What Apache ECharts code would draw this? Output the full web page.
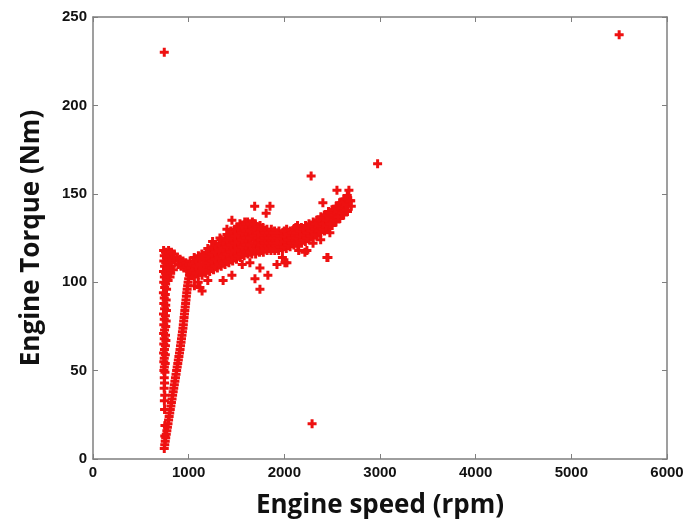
<!DOCTYPE html>
<html>
<head>
<meta charset="utf-8">
<script src="https://cdn.jsdelivr.net/npm/echarts@6/dist/echarts.min.js"></script>
<style>
html,body{margin:0;padding:0;background:#fff;}
#c{width:684px;height:519px;}
</style>
</head>
<body>
<div id="c"></div>
<script>
// Axis ticks
var xTicks = [0, 1000, 2000, 3000, 4000, 5000, 6000];
var yTicks = [0, 50, 100, 150, 200, 250];

// Idle-speed vertical column  [rpm, Nm]
var idleColumn = [
  [738,118],[758,117],[745,115],[768,114],[740,112],[760,111],[748,109],[770,108],
  [737,106],[757,105],[746,103],[766,102],[739,100],[759,99],[749,97],[769,96],
  [736,94],[756,93],[745,91],[765,90],[740,88],[760,87],[748,85],[768,84],
  [737,82],[757,81],[745,79],[765,78],[740,76],[760,75],[748,73],[738,71],
  [758,70],[745,68],[762,67],[740,65],[757,64],[747,62],[738,60],[756,59],
  [745,57],[740,55],[755,54],[746,52],[741,50],[752,49],[745,46],[748,43],
  [744,40],[750,36],[746,33],[748,28],[752,19],[750,13]
];

// Rising ramp from idle
var rampPoints = [
  [745,6],[750,8],[755,10],[760,12],[766,14],[772,16],[778,18],[784,20],[790,22],
  [796,24],[802,26],[808,28],[814,30],[820,32],[826,34],[832,36],[838,38],[844,40],
  [850,42],[856,44],[862,46],[868,48],[874,50],[880,52],[886,54],[892,56],[898,58],
  [904,60],[910,62],[915,64],[920,66],[925,68],[930,70],[935,72],[940,74],[944,76],
  [948,78],[952,80],[956,82],[960,84],[964,86],[968,88],[972,90],[976,92],[980,94],
  [984,96],[989,98],[994,100],[1000,102],[1008,104]
];

// Upper band joining the column to the main cloud
var topBand = [
  [790,118],[800,115],[820,117],[830,113],[850,116],[860,112],[880,114],[890,110],
  [910,113],[920,109],[940,112],[950,108],[970,111],[980,107],[1000,110],[1010,106],
  [790,106],[805,103],[785,101],[820,109],[840,107],[800,111],[780,108],[812,105]
];

// Main operating cloud
var mainCloud = [
  [1020,104],[1028,108],[1015,112],
  [1060,103],[1052,107],[1066,111],[1058,114],
  [1100,104],[1108,108],[1094,112],[1102,115],
  [1140,104],[1134,108],[1146,112],[1138,116],
  [1180,105],[1188,109],[1174,113],[1182,117],
  [1220,106],[1214,110],[1226,114],[1218,118],
  [1260,107],[1268,111],[1254,115],[1262,119],
  [1300,108],[1294,112],[1306,116],[1298,120],
  [1340,109],[1348,113],[1334,117],[1342,121],[1338,124],
  [1380,110],[1374,114],[1386,118],[1378,122],[1384,125],
  [1420,111],[1428,115],[1414,119],[1422,123],[1418,127],
  [1460,112],[1454,116],[1466,120],[1458,124],[1464,128],
  [1500,113],[1508,117],[1494,121],[1502,125],[1498,129],[1506,131],
  [1540,114],[1534,118],[1546,122],[1538,126],[1544,130],[1536,133],
  [1580,115],[1588,119],[1574,123],[1582,127],[1578,131],[1586,134],
  [1620,116],[1614,120],[1626,124],[1618,128],[1624,132],[1616,134],
  [1660,116],[1668,120],[1654,124],[1662,128],[1658,131],[1666,134],
  [1700,116],[1694,120],[1706,124],[1698,128],[1704,131],[1696,133],
  [1740,117],[1748,120],[1734,123],[1742,126],[1738,129],[1746,132],
  [1780,117],[1774,120],[1786,123],[1778,126],[1784,129],[1776,131],
  [1820,118],[1828,121],[1814,124],[1822,127],[1818,130],
  [1860,118],[1854,121],[1866,124],[1858,127],[1864,130],
  [1900,118],[1908,121],[1894,124],[1902,127],[1898,129],
  [1940,118],[1934,121],[1946,124],[1938,127],[1944,129],
  [1980,119],[1988,122],[1974,125],[1982,128],
  [2020,119],[2014,122],[2026,125],[2018,128],[2024,130],
  [2060,120],[2068,123],[2054,126],[2062,129],
  [2100,121],[2094,124],[2106,127],[2098,130],
  [2140,121],[2148,124],[2134,127],[2142,130],[2138,132],
  [2180,122],[2174,125],[2186,128],[2178,131],
  [2220,123],[2228,126],[2214,129],[2222,132],
  [2260,124],[2254,127],[2266,130],[2258,133],
  [2300,125],[2308,128],[2294,131],[2302,134],
  [2340,126],[2334,129],[2346,132],[2338,135],
  [2380,128],[2388,131],[2374,134],[2382,137],
  [2420,129],[2414,132],[2426,135],[2418,138],
  [2460,131],[2468,134],[2454,137],[2462,140],
  [2500,132],[2494,135],[2506,138],[2498,141],
  [2540,134],[2548,137],[2534,140],[2542,143],
  [2580,136],[2574,139],[2586,142],[2578,145],
  [2620,138],[2628,141],[2614,144],[2622,147],
  [2660,140],[2654,143],[2666,146],[2658,149],
  [2700,143],[2694,146]
];

// In-between samples of the operating cloud
var cloudFill = [
  [1040,106],[1040,110],
  [1080,105],[1080,109],[1080,113],
  [1120,106],[1120,110],[1120,114],
  [1160,106],[1160,110],[1160,114],
  [1200,107],[1200,111],[1200,115],[1200,119],
  [1240,108],[1240,112],[1240,116],[1240,120],
  [1280,109],[1280,113],[1280,117],[1280,121],
  [1320,110],[1320,114],[1320,118],[1320,122],
  [1360,111],[1360,115],[1360,119],[1360,123],
  [1400,112],[1400,116],[1400,120],[1400,124],[1400,127],
  [1440,113],[1440,117],[1440,121],[1440,125],[1440,129],
  [1480,114],[1480,118],[1480,122],[1480,126],[1480,130],
  [1520,115],[1520,119],[1520,123],[1520,127],[1520,131],
  [1560,116],[1560,120],[1560,124],[1560,128],[1560,132],
  [1600,117],[1600,121],[1600,125],[1600,129],[1600,133],
  [1640,117],[1640,121],[1640,125],[1640,129],[1640,133],
  [1680,118],[1680,122],[1680,126],[1680,130],[1680,133],
  [1720,118],[1720,122],[1720,125],[1720,128],[1720,131],
  [1760,118],[1760,121],[1760,124],[1760,127],[1760,130],
  [1800,119],[1800,122],[1800,125],[1800,128],
  [1840,119],[1840,122],[1840,125],[1840,128],
  [1880,119],[1880,122],[1880,125],[1880,128],
  [1920,119],[1920,122],[1920,125],[1920,128],
  [1960,120],[1960,123],[1960,126],
  [2000,120],[2000,123],[2000,126],[2000,129],
  [2040,121],[2040,124],[2040,127],
  [2080,122],[2080,125],[2080,128],
  [2120,122],[2120,125],[2120,128],[2120,131],
  [2160,123],[2160,126],[2160,129],
  [2200,124],[2200,127],[2200,130],
  [2240,125],[2240,128],[2240,131],
  [2280,126],[2280,129],[2280,132],
  [2320,127],[2320,130],[2320,133],
  [2360,129],[2360,132],[2360,135],
  [2400,130],[2400,133],[2400,136],
  [2440,132],[2440,135],[2440,138],
  [2480,133],[2480,136],[2480,139],
  [2520,135],[2520,138],[2520,141],
  [2560,137],[2560,140],[2560,143],
  [2600,139],[2600,142],[2600,145],
  [2640,141],[2640,144],[2640,147]
];

// Scattered points and outliers
var outliers = [
  [745,230],[5500,240],[2290,20],[2975,167],[2280,160],[2550,152],[2675,152],
  [2690,146],[2403,145],[1850,143],[1690,143],[1810,139],[1452,135],[1327,125],
  [1745,96],[1360,101],[1452,104],[1693,102],[1828,104],[1745,108],[2476,128],
  [2456,114],[2215,117],[2006,111],[1923,110],[2300,122],[1140,95],[1118,97],
  [2027,111],[2236,118],[2445,114],[1400,130],[1250,123],[1100,100],[1060,98],
  [1200,101],[1560,110],[1640,111],[1980,114],[2150,118],[2380,124]
];

var allPoints = idleColumn.concat(rampPoints, topBand, mainCloud, cloudFill, outliers);

var chart = echarts.init(document.getElementById('c'), null, {renderer: 'canvas'});
var plusPath = 'path://M3,0h3v3h3v3h-3v3h-3v-3h-3v-3h3z';
var frameColor = '#7f7f7f';
var labelStyle = {color: '#111', fontFamily: 'Liberation Sans', fontWeight: 'bold', fontSize: 15};

function baseAxis(pos, min, max, interval, showLabel) {
  return {
    type: 'value', position: pos, min: min, max: max, interval: interval,
    axisLine: {show: true, onZero: false, lineStyle: {color: frameColor, width: 1.5}},
    axisTick: {show: true, inside: true, length: 5, lineStyle: {color: frameColor}},
    axisLabel: Object.assign({show: showLabel, margin: 6, formatter: function (v) { return String(v); }}, labelStyle),
    splitLine: {show: false}
  };
}

var xMain = baseAxis('bottom', xTicks[0], xTicks[xTicks.length - 1], xTicks[1] - xTicks[0], true);
xMain.name = 'Engine speed (rpm)';
xMain.nameLocation = 'middle';
xMain.nameGap = 34;
xMain.nameTextStyle = {color: '#111', fontFamily: 'Open Sans', fontWeight: 'bold', fontSize: 26};
var xTop = baseAxis('top', xTicks[0], xTicks[xTicks.length - 1], xTicks[1] - xTicks[0], false);

var yMain = baseAxis('left', yTicks[0], yTicks[yTicks.length - 1], yTicks[1] - yTicks[0], true);
yMain.name = 'Engine Torque (Nm)';
yMain.nameLocation = 'middle';
yMain.nameGap = 48;
yMain.nameTextStyle = {color: '#111', fontFamily: 'Open Sans', fontWeight: 'bold', fontSize: 26};
var yRight = baseAxis('right', yTicks[0], yTicks[yTicks.length - 1], yTicks[1] - yTicks[0], false);

chart.setOption({
  animation: false,
  backgroundColor: '#fff',
  grid: {left: 93, right: 17, top: 17, bottom: 60, containLabel: false, outerBoundsMode: 'none'},
  xAxis: [xMain, xTop],
  yAxis: [yMain, yRight],
  series: [{
    type: 'scatter',
    xAxisIndex: 0, yAxisIndex: 0,
    symbol: plusPath,
    symbolSize: 9,
    itemStyle: {color: '#ee1111', opacity: 1},
    data: allPoints
  }]
});
</script>
</body>
</html>
